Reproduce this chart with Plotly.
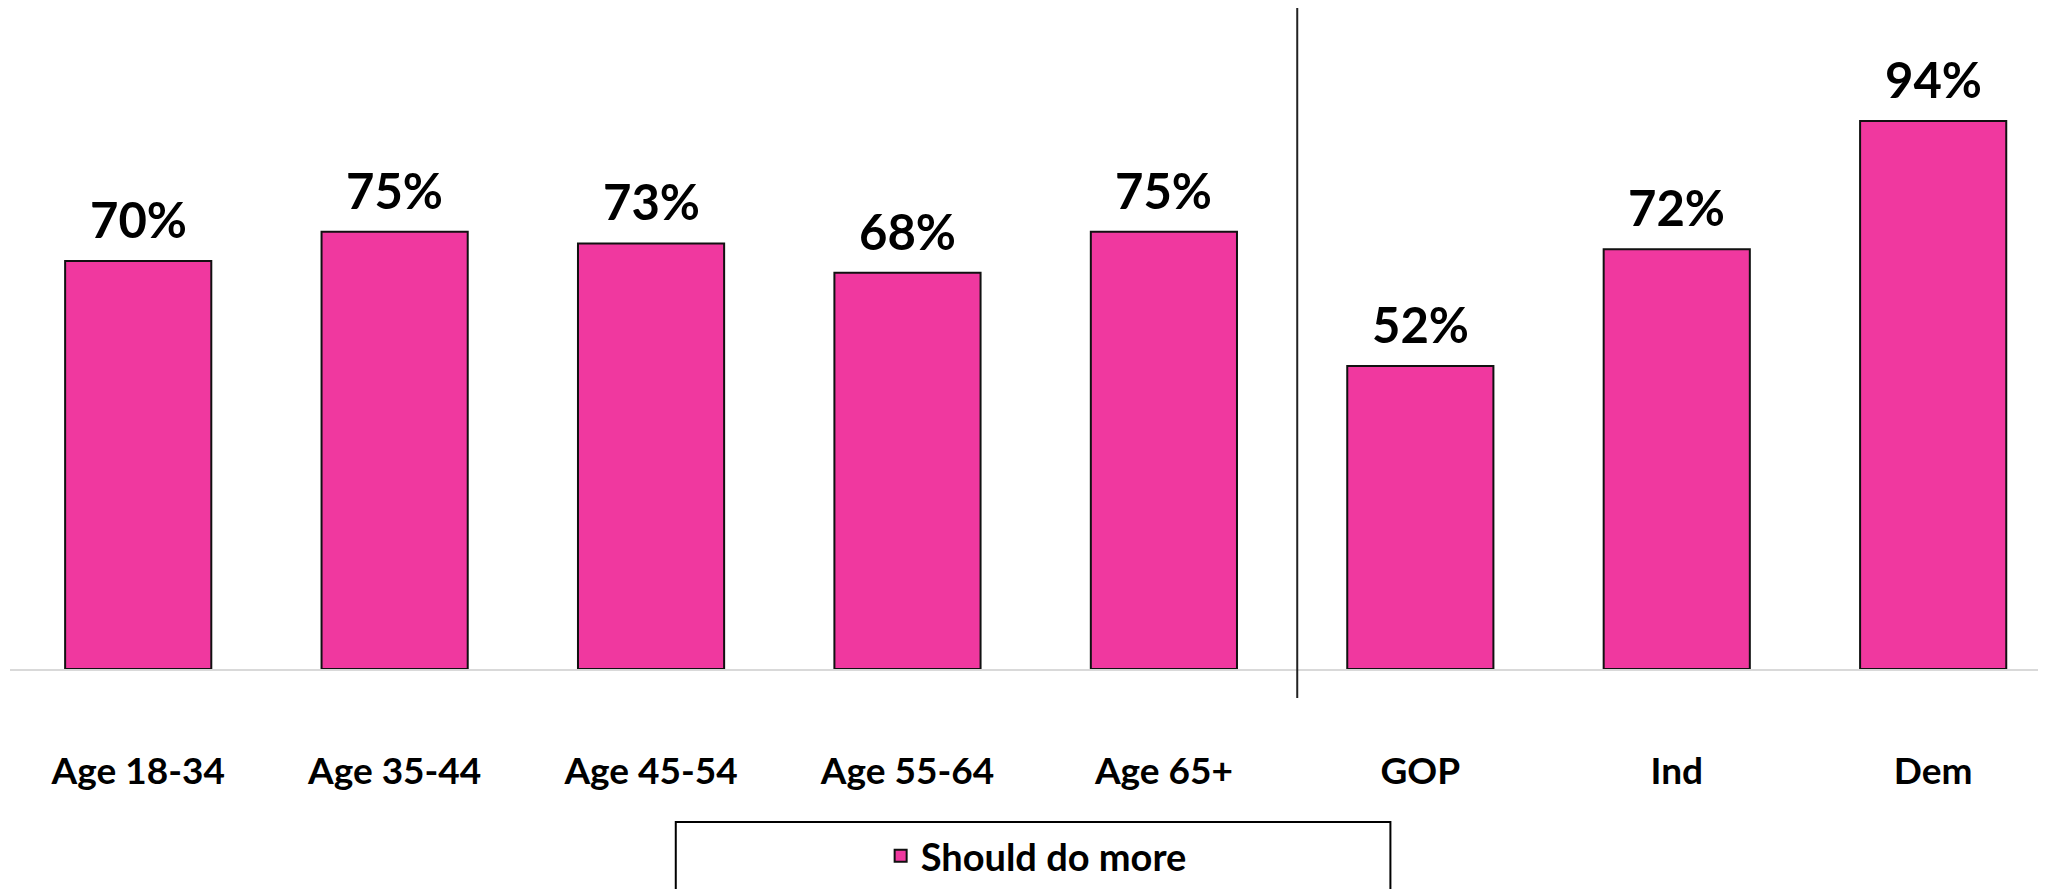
import plotly.graph_objects as go

categories = ["Age 18-34", "Age 35-44", "Age 45-54", "Age 55-64", "Age 65+", "GOP", "Ind", "Dem"]
values = [70, 75, 73, 68, 75, 52, 72, 94]
value_labels = ["70%", "75%", "73%", "68%", "75%", "52%", "72%", "94%"]
series_name = "Should do more"

PINK = "#F0389F"
FONT = "Lato"

fig = go.Figure()
fig.add_trace(go.Bar(
    x=categories, y=values, name=series_name,
    marker=dict(color=PINK, line=dict(color="#111111", width=2)),
    width=0.57, showlegend=True,
))

for c, v, t in zip(categories, values, value_labels):
    fig.add_annotation(x=c, y=v, text=f"<b>{t}</b>", showarrow=False,
                       yanchor="bottom", yshift=11,
                       font=dict(family=FONT, size=49, color="black"))

# separator line between age groups and party groups
fig.add_shape(type="line", xref="x", yref="paper", x0=4.52, x1=4.52,
              y0=-0.0439, y1=1.0, line=dict(color="#222222", width=2))
# legend frame
fig.add_shape(type="rect", xref="paper", yref="paper", x0=0.327, x1=0.678,
              y0=-0.40, y1=-0.2315, line=dict(color="black", width=2),
              fillcolor="rgba(0,0,0,0)")

fig.update_layout(
    width=2038, height=881,
    margin=dict(l=2, r=0, t=0, b=220),
    plot_bgcolor="white", paper_bgcolor="white",
    font=dict(family=FONT, color="black"),
    showlegend=True,
    legend=dict(orientation="h", x=0.504, xanchor="center", y=-0.2829, yanchor="middle",
                font=dict(family=FONT, size=38, color="black", weight="bold"),
                bgcolor="rgba(0,0,0,0)", borderwidth=0),
    xaxis=dict(range=[-0.5, 7.44], showline=True, linecolor="#D9D9D9", linewidth=2,
               ticks="", showgrid=False, zeroline=False,
               tickfont=dict(family=FONT, size=37, color="black", weight="bold"),
               ticklabelstandoff=69),
    yaxis=dict(range=[0, 113.4], visible=False, showgrid=False, zeroline=False),
)

fig.write_html("out.html")
